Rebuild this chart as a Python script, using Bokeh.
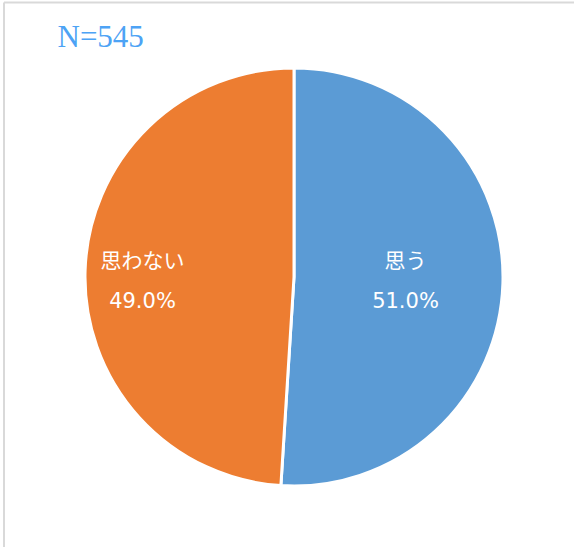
import math
from bokeh.plotting import figure
from bokeh.models import ColumnDataSource, Range1d, Label
from bokeh.embed import file_html
from bokeh.resources import INLINE

categories = ["思う", "思わない"]
values = [51.0, 49.0]
colors = ["#5B9BD5", "#ED7D31"]
title_text = "N=545"

W, H = 574, 547
p = figure(width=W, height=H, output_backend="svg", toolbar_location=None,
           x_range=Range1d(0, W), y_range=Range1d(0, H), min_border=0,
           outline_line_color=None, background_fill_color="white",
           border_fill_color="white")
p.axis.visible = False
p.grid.visible = False

# frame lines (top and left)
p.line([3.5, W], [H - 2, H - 2], line_color="#d9d9d9", line_width=2)
p.line([3.5, 3.5], [0, H - 2], line_color="#d9d9d9", line_width=2)

cx, cy, r = 293.5, H - 276.5, 209
total = sum(values)
starts, ends = [], []
a = math.pi / 2
for v in values:
    starts.append(a)
    a -= 2 * math.pi * v / total
    ends.append(a)

src = ColumnDataSource(dict(cat=categories, val=values, start=starts, end=ends, color=colors))
p.wedge(x=cx, y=cy, radius=r, start_angle="start", end_angle="end", direction="clock",
        fill_color="color", line_color="white", line_width=3, source=src)

label_pos = [(405, 258, 300), (142, 258, 300)]
for cat, v, (lx, ly1, ly2) in zip(categories, values, label_pos):
    p.add_layout(Label(x=lx, y=H - ly1, text=cat, text_align="center", text_baseline="middle",
                       text_color="white", text_font="Noto Sans CJK JP", text_font_size="21px"))
    p.add_layout(Label(x=lx, y=H - ly2, text=f"{v:.1f}%", text_align="center", text_baseline="middle",
                       text_color="white", text_font="DejaVu Sans", text_font_size="21px"))

p.add_layout(Label(x=57, y=H - 36, text=title_text, text_align="left", text_baseline="middle",
                   text_color="#4DA3F5", text_font="Liberation Serif", text_font_size="31px"))

open("out.html", "w").write(file_html(p, INLINE))
